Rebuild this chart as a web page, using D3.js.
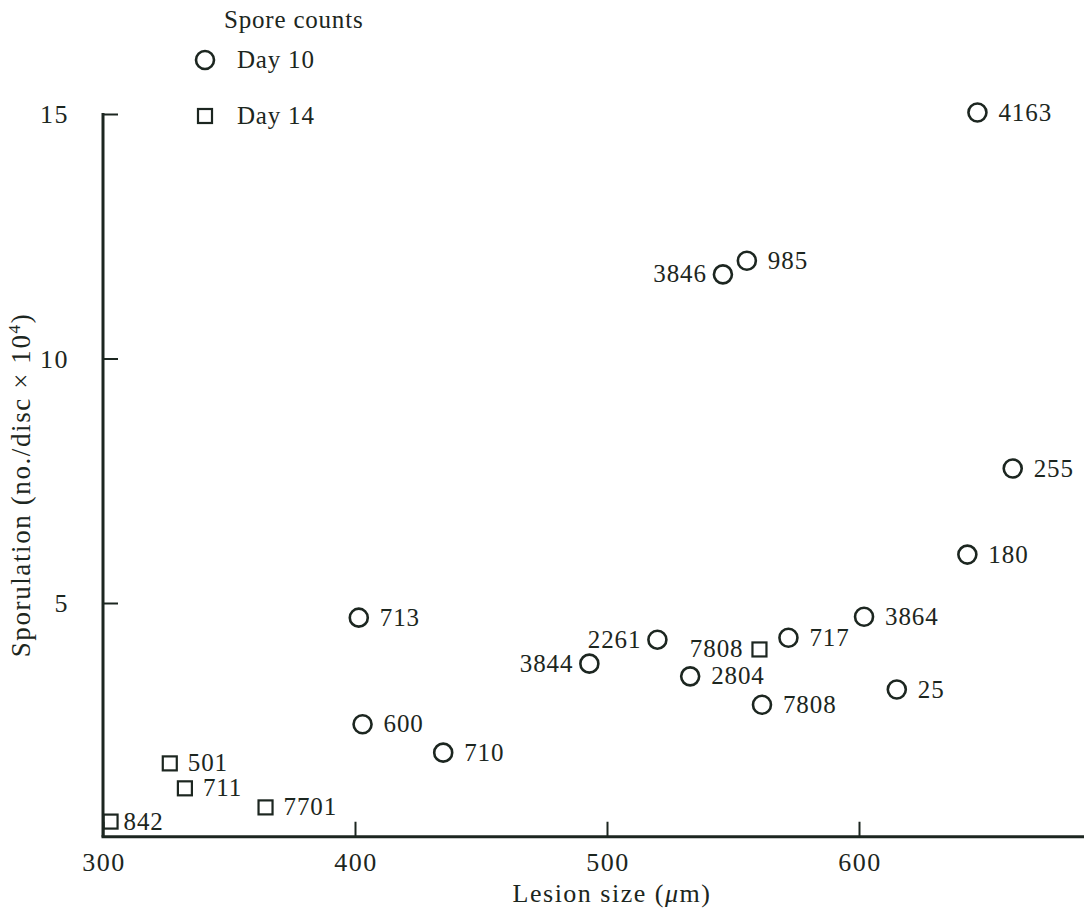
<!DOCTYPE html>
<html>
<head>
<meta charset="utf-8">
<script src="https://cdn.jsdelivr.net/npm/d3@7"></script>
<style>
  body { margin: 0; background: #fff; }
  text { font-family: "Liberation Serif", "DejaVu Serif", serif; fill: #1c2620; }
</style>
</head>
<body>
<svg width="1084" height="909"></svg>
<script>
// data
day10Size = [647, 555.5, 546, 661, 643, 401.5, 602, 520, 572, 493, 533, 615, 561.5, 403, 435];
day10Spor = [15.03, 12.0, 11.72, 7.75, 5.99, 4.70, 4.72, 4.25, 4.29, 3.76, 3.50, 3.23, 2.92, 2.52, 1.94];
day10Name = ["4163", "985", "3846", "255", "180", "713", "3864", "2261", "717", "3844", "2804", "25", "7808", "600", "710"];
day10Left = ["3846", "2261", "3844"];

day14Size = [560.5, 326.5, 332.5, 364.5, 303];
day14Spor = [4.05, 1.72, 1.21, 0.82, 0.53];
day14Name = ["7808", "501", "711", "7701", "842"];
day14Left = ["7808"];

xTicks = [300, 400, 500, 600];
yTicks = [5, 10, 15];

ink = "#1c2620";
svg = d3.select("svg");

x = d3.scaleLinear().domain([300, 600]).range([103, 859]);
y = d3.scaleLinear().domain([0, 15]).range([847.5, 114]);
yBase = y(0.22);

// axes
xAxis = svg.append("g")
  .attr("transform", `translate(0,${yBase})`)
  .call(d3.axisTop(x).tickValues(xTicks).tickSize(15).tickFormat(""));
xAxis.select(".domain").remove();
xAxis.selectAll("line").attr("stroke", ink).attr("stroke-width", 2);
svg.append("line")
  .attr("x1", x(300) - 1.5).attr("x2", 1084)
  .attr("y1", yBase).attr("y2", yBase)
  .attr("stroke", ink).attr("stroke-width", 3);

yAxis = svg.append("g")
  .attr("transform", `translate(${x(300)},0)`)
  .call(d3.axisRight(y).tickValues(yTicks).tickSize(15).tickFormat(""));
yAxis.select(".domain").remove();
yAxis.selectAll("line").attr("stroke", ink).attr("stroke-width", 2);
svg.append("line")
  .attr("x1", x(300)).attr("x2", x(300))
  .attr("y1", y(15) - 1).attr("y2", yBase)
  .attr("stroke", ink).attr("stroke-width", 3);

// tick labels
svg.selectAll(".xl").data(xTicks).enter().append("text")
  .attr("x", d => x(d) + 1).attr("y", 871)
  .attr("text-anchor", "middle").attr("font-size", 26).attr("letter-spacing", 1.5)
  .text(d => d);
svg.selectAll(".yl").data(yTicks).enter().append("text")
  .attr("x", 69).attr("y", d => y(d) + 9)
  .attr("text-anchor", "end").attr("font-size", 26).attr("letter-spacing", 1.5)
  .text(d => d);

// axis titles
svg.append("text")
  .attr("x", 612).attr("y", 902)
  .attr("text-anchor", "middle").attr("font-size", 26).attr("letter-spacing", 1.5)
  .html("Lesion size (<tspan font-style='italic'>μ</tspan>m)");
svg.append("text")
  .attr("transform", "translate(30,485) rotate(-90)")
  .attr("text-anchor", "middle").attr("font-size", 27).attr("letter-spacing", 1.6)
  .html("Sporulation (no./disc × 10<tspan dy='-10' font-size='17'>4</tspan><tspan dy='10'>)</tspan>");

// points
day10 = day10Size.map((d, i) => ({ x: d, y: day10Spor[i], name: day10Name[i] }));
day14 = day14Size.map((d, i) => ({ x: d, y: day14Spor[i], name: day14Name[i] }));

svg.selectAll(".c").data(day10).enter().append("circle")
  .attr("cx", d => x(d.x)).attr("cy", d => y(d.y)).attr("r", 9)
  .attr("fill", "none").attr("stroke", ink).attr("stroke-width", 2.6);
svg.selectAll(".s").data(day14).enter().append("rect")
  .attr("x", d => x(d.x) - 7).attr("y", d => y(d.y) - 7)
  .attr("width", 14).attr("height", 14)
  .attr("fill", "none").attr("stroke", ink).attr("stroke-width", 2.2);

function labels(data, left, gap) {
  svg.selectAll(null).data(data).enter().append("text")
    .attr("x", d => left.includes(d.name) ? x(d.x) - 16 : x(d.x) + (d.name === "842" ? 13 : gap))
    .attr("y", d => y(d.y) + 8)
    .attr("text-anchor", d => left.includes(d.name) ? "end" : "start")
    .attr("font-size", 25).attr("letter-spacing", 0.9)
    .text(d => d.name);
}
labels(day10, day10Left, 21);
labels(day14, day14Left, 18);

// legend
svg.append("text").attr("x", 224).attr("y", 28)
  .attr("font-size", 25).attr("letter-spacing", 0.8).text("Spore counts");
svg.append("circle").attr("cx", 205).attr("cy", 60).attr("r", 9)
  .attr("fill", "none").attr("stroke", ink).attr("stroke-width", 2.6);
svg.append("text").attr("x", 237).attr("y", 68)
  .attr("font-size", 25).attr("letter-spacing", 0.8).text("Day 10");
svg.append("rect").attr("x", 198).attr("y", 109).attr("width", 14).attr("height", 14)
  .attr("fill", "none").attr("stroke", ink).attr("stroke-width", 2.2);
svg.append("text").attr("x", 237).attr("y", 124)
  .attr("font-size", 25).attr("letter-spacing", 0.8).text("Day 14");
</script>
</body>
</html>
